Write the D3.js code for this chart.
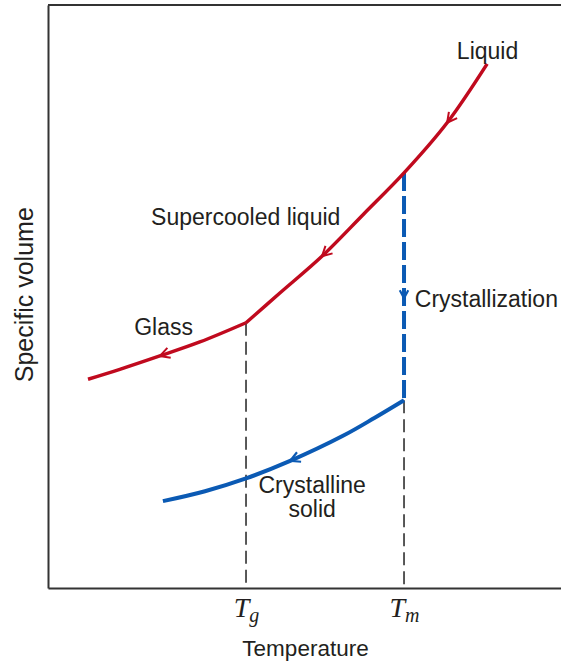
<!DOCTYPE html>
<html>
<head>
<meta charset="utf-8">
<script src="https://cdn.jsdelivr.net/npm/d3@7"></script>
<style>
  body { margin: 0; background: #fff; }
  svg { display: block; }
</style>
</head>
<body>
<div id="chart"></div>
<script>
// Temperature and specific volume in arbitrary units (0-100)
const tickTemps = [38.6, 69.4];
const tickSubs = ['g', 'm'];

const glassT = [7.8, 14.0, 21.8, 29.6, 38.6];
const glassV = [35.8, 37.5, 39.8, 42.2, 45.5];

const liquidT = [38.6, 45.2, 53.4, 61.6, 69.4, 77.8, 85.6];
const liquidV = [45.5, 50.6, 56.9, 64.2, 71.2, 79.8, 89.9];

const crystalT = [22.4, 30.6, 38.6, 47.2, 57.5, 63.7, 69.4];
const crystalV = [14.9, 16.6, 18.8, 21.8, 26.1, 29.2, 32.2];

// arrow markers along the cooling paths
const redArrowT = [21.8, 53.4, 77.8];
const blueArrowT = [47.2];
const crystallizationArrowV = 49.7;

const labels = [
  { text: 'Liquid', t: 79.7, v: 90.8, anchor: 'start' },
  { text: 'Supercooled liquid', t: 20.1, v: 62.3, anchor: 'start' },
  { text: 'Glass', t: 16.8, v: 43.4, anchor: 'start' },
  { text: 'Crystallization', t: 71.5, v: 48.2, anchor: 'start' },
  { text: 'Crystalline', t: 51.5, v: 16.3, anchor: 'middle' },
  { text: 'solid', t: 51.5, v: 12.2, anchor: 'middle' }
];

const width = 561, height = 664;
const margin = { top: 5, right: 0, bottom: 76, left: 48 };
const RED = '#c00a1e';
const BLUE = '#0b5ab4';
const INK = '#231f20';

const svg = d3.select('#chart').append('svg')
  .attr('width', width)
  .attr('height', height);

const x = d3.scaleLinear().domain([0, 100]).range([margin.left, width - margin.right]);
const y = d3.scaleLinear().domain([0, 100]).range([height - margin.bottom, margin.top]);

// Frame: bottom axis, left axis, top line
const xAxis = svg.append('g')
  .attr('transform', `translate(0,${y(0)})`)
  .call(d3.axisBottom(x).tickValues(tickTemps).tickSize(0).tickFormat(() => ''));
xAxis.select('.domain').attr('stroke', '#333').attr('stroke-width', 2);

svg.append('g')
  .attr('transform', `translate(${x(0)},0)`)
  .call(d3.axisLeft(y).tickValues([]).tickSize(0))
  .select('.domain').attr('stroke', '#333').attr('stroke-width', 2);

svg.append('line')
  .attr('x1', x(0)).attr('x2', x(100))
  .attr('y1', y(100)).attr('y2', y(100))
  .attr('stroke', '#333').attr('stroke-width', 2);

// Tick labels T_g, T_m
xAxis.selectAll('.tick').each(function(d, i) {
  const t = d3.select(this).append('text')
    .attr('y', 29)
    .attr('text-anchor', 'middle')
    .attr('fill', INK)
    .attr('font-family', '"Liberation Serif", "DejaVu Serif", serif')
    .attr('font-style', 'italic');
  t.append('tspan').attr('font-size', '28px').text('T');
  t.append('tspan').attr('font-size', '20px').attr('dy', 5).text(tickSubs[i]);
});

// Axis titles
svg.append('text')
  .attr('x', x(50.2))
  .attr('y', 656)
  .attr('text-anchor', 'middle')
  .attr('fill', INK)
  .attr('font-family', '"Liberation Sans", Arial, sans-serif')
  .attr('font-size', '22.5px')
  .text('Temperature');

svg.append('text')
  .attr('transform', `translate(33,${y(50.3)}) rotate(-90)`)
  .attr('text-anchor', 'middle')
  .attr('fill', INK)
  .attr('font-family', '"Liberation Sans", Arial, sans-serif')
  .attr('font-size', '25px')
  .text('Specific volume');

// Dashed guide lines at Tg and Tm
const guides = [
  { t: tickTemps[0], top: glassV[glassV.length - 1] },
  { t: tickTemps[1], top: crystalV[crystalV.length - 1] }
];
guides.forEach(g => {
  svg.append('line')
    .attr('x1', x(g.t)).attr('x2', x(g.t))
    .attr('y1', y(g.top)).attr('y2', y(0))
    .attr('stroke', '#222')
    .attr('stroke-width', 1.5)
    .attr('stroke-dasharray', '13,6');
});

const line = d3.line()
  .x(d => x(d[0]))
  .y(d => y(d[1]))
  .curve(d3.curveCatmullRom.alpha(0.5));

function drawCurve(ts, vs, color, w) {
  return svg.append('path')
    .datum(ts.map((t, i) => [t, vs[i]]))
    .attr('d', line)
    .attr('fill', 'none')
    .attr('stroke', color)
    .attr('stroke-width', w)
    .attr('stroke-linecap', 'butt');
}

// Crystallization (dashed blue vertical at Tm)
svg.append('line')
  .attr('x1', x(tickTemps[1])).attr('x2', x(tickTemps[1]))
  .attr('y1', y(liquidV[4])).attr('y2', y(crystalV[crystalV.length - 1]))
  .attr('stroke', BLUE)
  .attr('stroke-width', 4)
  .attr('stroke-dasharray', '18,5');

const glassPath = drawCurve(glassT, glassV, RED, 3.5);
const liquidPath = drawCurve(liquidT, liquidV, RED, 3.5);
const crystalPath = drawCurve(crystalT, crystalV, BLUE, 4);

// find point on a path at a given temperature (path runs left to right)
function pointAt(pathSel, t) {
  const node = pathSel.node();
  const target = x(t);
  let lo = 0, hi = node.getTotalLength();
  for (let k = 0; k < 40; k++) {
    const mid = (lo + hi) / 2;
    if (node.getPointAtLength(mid).x < target) lo = mid; else hi = mid;
  }
  const p = node.getPointAtLength(lo);
  const a = node.getPointAtLength(Math.max(0, lo - 2));
  const b = node.getPointAtLength(lo + 2);
  // travel direction is towards lower temperature
  const dx = a.x - b.x, dy = a.y - b.y;
  const len = Math.hypot(dx, dy);
  return { x: p.x, y: p.y, dx: dx / len, dy: dy / len };
}

function chevron(p, color, w, size) {
  const ang = 28 * Math.PI / 180;
  const bx = -p.dx, by = -p.dy;
  const arm = s => [
    p.x + size * (bx * Math.cos(s * ang) - by * Math.sin(s * ang)),
    p.y + size * (bx * Math.sin(s * ang) + by * Math.cos(s * ang))
  ];
  const a1 = arm(1), a2 = arm(-1);
  svg.append('path')
    .attr('d', `M${a1[0]},${a1[1]}L${p.x},${p.y}L${a2[0]},${a2[1]}`)
    .attr('fill', 'none')
    .attr('stroke', color)
    .attr('stroke-width', w)
    .attr('stroke-linejoin', 'miter');
}

redArrowT.forEach(t => {
  const path = t <= tickTemps[0] ? glassPath : liquidPath;
  chevron(pointAt(path, t), RED, 2, 11);
});
blueArrowT.forEach(t => chevron(pointAt(crystalPath, t), BLUE, 2.2, 11));
chevron({ x: x(tickTemps[1]), y: y(crystallizationArrowV), dx: 0, dy: 1 }, BLUE, 2.2, 9);

// Region labels
svg.selectAll('text.region')
  .data(labels)
  .join('text')
  .attr('class', 'region')
  .attr('x', d => x(d.t))
  .attr('y', d => y(d.v))
  .attr('text-anchor', d => d.anchor)
  .attr('fill', INK)
  .attr('font-family', '"Liberation Sans", Arial, sans-serif')
  .attr('font-size', '23px')
  .text(d => d.text);
</script>
</body>
</html>
